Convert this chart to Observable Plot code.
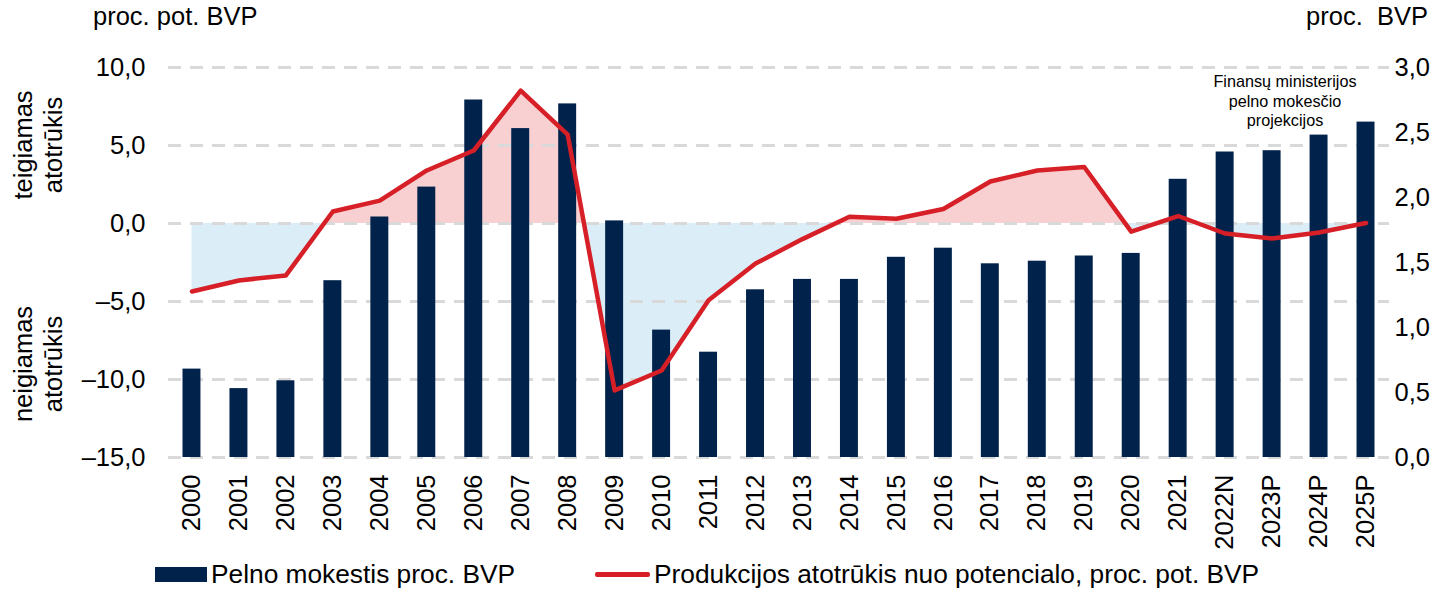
<!DOCTYPE html>
<html>
<head>
<meta charset="utf-8">
<script src="https://cdn.jsdelivr.net/npm/d3@7"></script>
<script src="https://cdn.jsdelivr.net/npm/@observablehq/plot@0.6"></script>
<style>
  html, body { margin: 0; padding: 0; background: #fff; }
  #wrap { position: relative; width: 1433px; height: 589px; font-family: "Liberation Sans", Arial, sans-serif; color: #000; overflow: hidden; }
  .abs { position: absolute; white-space: nowrap; }
  .rot { position: absolute; transform: translate(-50%, -50%) rotate(-90deg); text-align: center; font-size: 25.5px; line-height: 30px; white-space: nowrap; }
  .lg { position: absolute; font-size: 26.3px; line-height: 30px; white-space: nowrap; }
  .sw-bar { position: absolute; left: 155px; top: 567px; width: 52px; height: 15px; background: #00224b; }
  .sw-line { position: absolute; left: 595px; top: 572px; width: 55px; height: 4.5px; background: #d61f26; border-radius: 2px; }
</style>
</head>
<body>
<div id="wrap">
  <div id="chart"></div>
  <div class="abs" style="left:93px; top:2px; font-size:25.5px;">proc. pot. BVP</div>
  <div class="abs" style="right:5px; top:2px; font-size:25.5px;">proc.&nbsp; BVP</div>
  <div class="rot" style="left:38px; top:145px;">teigiamas<br>atotrūkis</div>
  <div class="rot" style="left:38px; top:364px;">neigiamas<br>atotrūkis</div>
  <div class="abs" style="left:1285px; top:72px; transform:translateX(-50%); font-size:16.2px; line-height:19.5px; text-align:center;">Finansų ministerijos<br>pelno mokesčio<br>projekcijos</div>
  <div class="sw-bar"></div><div class="lg" style="left:211px; top:559px;">Pelno mokestis proc. BVP</div>
  <div class="sw-line"></div><div class="lg" style="left:654px; top:559px;">Produkcijos atotrūkis nuo potencialo, proc. pot. BVP</div>
</div>
<script>
const years = ["2000","2001","2002","2003","2004","2005","2006","2007","2008","2009","2010","2011","2012","2013","2014","2015","2016","2017","2018","2019","2020","2021","2022N","2023P","2024P","2025P"];
// Profit tax, % of GDP (right axis)
const taxShare = [0.68,0.53,0.59,1.36,1.85,2.08,2.75,2.53,2.72,1.82,0.98,0.81,1.29,1.37,1.37,1.54,1.61,1.49,1.51,1.55,1.57,2.14,2.35,2.36,2.48,2.58];
// Output gap, % of potential GDP (left axis)
const outputGap = [-4.36,-3.65,-3.33,0.77,1.47,3.4,4.68,8.52,5.7,-10.7,-9.42,-4.92,-2.57,-1.0,0.43,0.3,0.93,2.69,3.4,3.62,-0.52,0.48,-0.64,-0.96,-0.58,0.03];
const leftTicks = [-15,-10,-5,0,5,10];
const rightTicks = [0,0.5,1,1.5,2,2.5,3];

const L0 = -15, L1 = 10, R0 = 0, R1 = 3;
const toLeft = v => L0 + (v - R0) * (L1 - L0) / (R1 - R0);
const fromLeft = v => R0 + (v - L0) * (R1 - R0) / (L1 - L0);
const fmt = v => (Math.abs(v) < 1e-9 ? 0 : v).toFixed(1).replace(".", ",").replace("-", "\u2013");

const data = years.map((y, i) => ({i, year: y, tax: taxShare[i], gap: outputGap[i]}));

// area points with zero crossings inserted
const pts = [];
for (let k = 0; k < data.length; k++) {
  const a = data[k];
  pts.push({x: a.i, y: a.gap});
  if (k < data.length - 1) {
    const b = data[k + 1];
    if ((a.gap < 0 && b.gap > 0) || (a.gap > 0 && b.gap < 0)) {
      const t = a.gap / (a.gap - b.gap);
      pts.push({x: a.i + t, y: 0});
    }
  }
}

const chart = Plot.plot({
  width: 1433,
  height: 555,
  marginLeft: 168,
  marginRight: 44,
  marginTop: 67,
  marginBottom: 98,
  style: {fontFamily: "'Liberation Sans', Arial, sans-serif", fontSize: "25.5px", color: "#000", background: "transparent"},
  x: {type: "linear", domain: [-0.5, years.length - 0.5], label: null},
  y: {domain: [L0, L1], label: null},
  marks: [
    Plot.areaY(pts, {x: "x", y1: 0, y2: d => Math.max(d.y, 0), fill: "#f8d0d1"}),
    Plot.areaY(pts, {x: "x", y1: 0, y2: d => Math.min(d.y, 0), fill: "#dbedf7"}),
    Plot.ruleY(leftTicks, {stroke: "#d9d9d9", strokeWidth: 3, strokeDasharray: "13,9"}),
    Plot.rectY(data, {x1: d => d.i - 0.5, x2: d => d.i + 0.5, y1: toLeft(0), y2: d => toLeft(d.tax), fill: "#00224b", insetLeft: 14.5, insetRight: 14.5}),
    Plot.line(data, {x: "i", y: "gap", stroke: "#d61f26", strokeWidth: 4.5}),
    Plot.axisY(leftTicks, {anchor: "left", tickSize: 0, tickPadding: 23, tickFormat: fmt, label: null}),
    Plot.axisY(rightTicks.map(toLeft), {anchor: "right", tickSize: 0, tickPadding: 5, tickFormat: d => fmt(fromLeft(d)), label: null}),
    Plot.axisX(d3.range(years.length), {anchor: "bottom", tickSize: 0, tickPadding: 17, tickRotate: -90, tickFormat: i => years[i], label: null})
  ]
});
document.getElementById("chart").appendChild(chart);
</script>
</body>
</html>
